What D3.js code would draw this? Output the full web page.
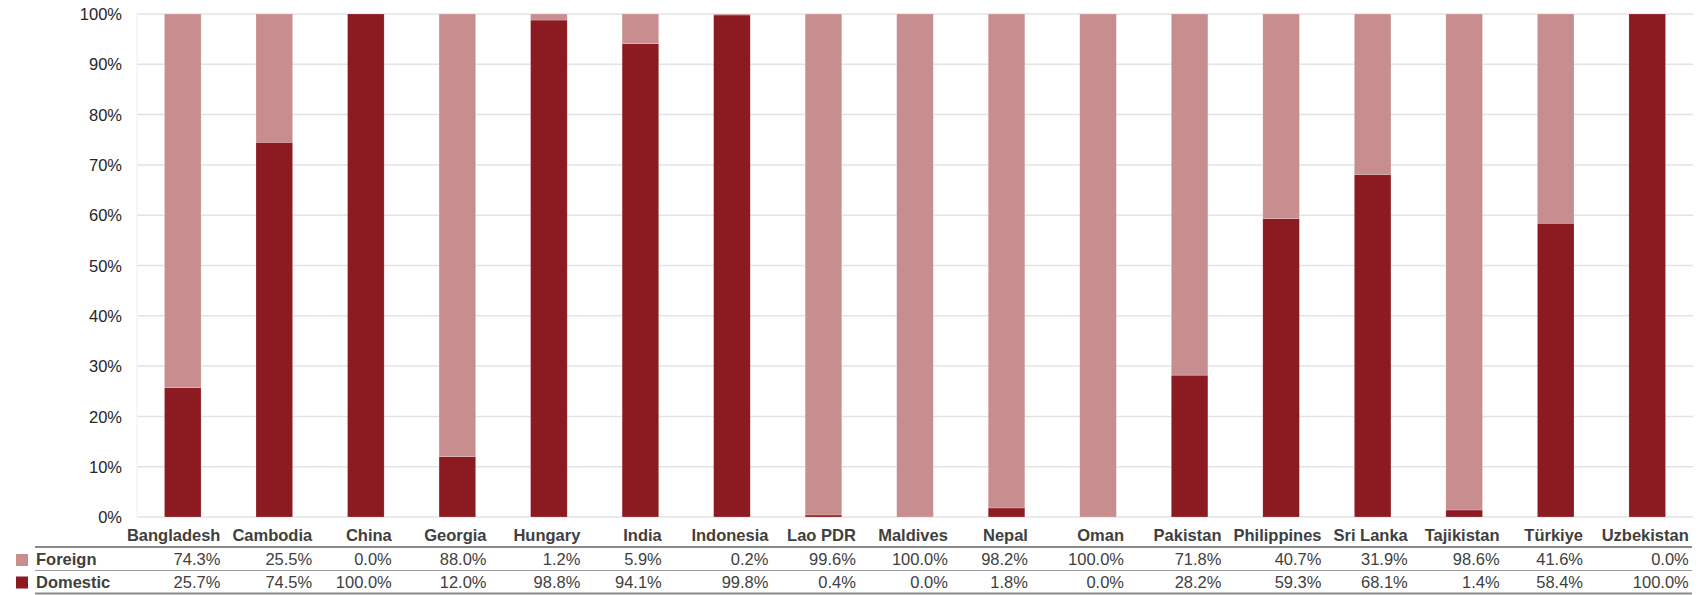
<!DOCTYPE html>
<html>
<head>
<meta charset="utf-8">
<script src="https://cdn.jsdelivr.net/npm/d3@7"></script>
<style>
  html, body { margin: 0; padding: 0; background: #fff; }
  svg { display: block; font-family: "Liberation Sans", Arial, sans-serif; }
</style>
</head>
<body>
<svg id="chart" width="1707" height="595"></svg>
<script>
const categories = ["Bangladesh","Cambodia","China","Georgia","Hungary","India","Indonesia","Lao PDR","Maldives","Nepal","Oman","Pakistan","Philippines","Sri Lanka","Tajikistan","Türkiye","Uzbekistan"];
const foreign  = [74.3, 25.5, 0.0, 88.0, 1.2, 5.9, 0.2, 99.6, 100.0, 98.2, 100.0, 71.8, 40.7, 31.9, 98.6, 41.6, 0.0];
const domestic = [25.7, 74.5, 100.0, 12.0, 98.8, 94.1, 99.8, 0.4, 0.0, 1.8, 0.0, 28.2, 59.3, 68.1, 1.4, 58.4, 100.0];
const seriesNames = ["Domestic", "Foreign"];
const yTicks = [0, 10, 20, 30, 40, 50, 60, 70, 80, 90, 100];

const colors = { Domestic: "#8c1a21", Foreign: "#c78d8f" };

const svg = d3.select("#chart");
const plot = { left: 137, right: 1693, top: 14, bottom: 517 };

const rows = categories.map((c, i) => ({ cat: c, Domestic: domestic[i], Foreign: foreign[i] }));

const x = d3.scaleBand().domain(categories).range([plot.left, plot.right]).paddingInner(0.6).paddingOuter(0.3);
const y = d3.scaleLinear().domain([0, 100]).range([plot.bottom, plot.top]);

// gridlines
svg.append("g").selectAll("line").data(yTicks).join("line")
  .attr("x1", plot.left).attr("x2", plot.right)
  .attr("y1", d => y(d)).attr("y2", d => y(d))
  .attr("stroke", "#e3e3e3").attr("stroke-width", 1.5);
svg.append("line").attr("x1", plot.left).attr("x2", plot.left)
  .attr("y1", plot.top).attr("y2", plot.bottom)
  .attr("stroke", "#efefef").attr("stroke-width", 1);

// y axis
const yAxis = d3.axisLeft(y).tickValues(yTicks).tickFormat(d => d + "%").tickSize(0).tickPadding(0);
const yg = svg.append("g").attr("transform", "translate(122,0)").call(yAxis);
yg.select(".domain").remove();
yg.selectAll("text").attr("font-size", "16.5px").attr("fill", "#262626")
  .attr("font-family", "'Liberation Sans', Arial, sans-serif").attr("dy", "0.34em");

// stacked bars
const stack = d3.stack().keys(seriesNames)(rows);
svg.append("g").selectAll("g").data(stack).join("g")
  .attr("fill", d => colors[d.key])
  .selectAll("rect").data(d => d).join("rect")
  .attr("x", d => x(d.data.cat))
  .attr("width", x.bandwidth())
  .attr("y", d => y(d[1]))
  .attr("height", d => Math.max(0, y(d[0]) - y(d[1])))
  .attr("stroke", "#ffffff").attr("stroke-opacity", 0.35).attr("stroke-width", 0.6);

// data table
const tableLeft = 35, tableRight = 1692;
const rowBase = { cat: 541, Foreign: 565, Domestic: 587.5 };
svg.append("line").attr("x1", tableLeft).attr("x2", tableRight).attr("y1", 547).attr("y2", 547)
  .attr("stroke", "#8a8a8a").attr("stroke-width", 2);
svg.append("line").attr("x1", tableLeft).attr("x2", tableRight).attr("y1", 570.5).attr("y2", 570.5)
  .attr("stroke", "#9a9a9a").attr("stroke-width", 1.2);
svg.append("line").attr("x1", tableLeft).attr("x2", tableRight).attr("y1", 593.5).attr("y2", 593.5)
  .attr("stroke", "#8a8a8a").attr("stroke-width", 2);

// legend keys
const legendRows = ["Foreign", "Domestic"];
legendRows.forEach(k => {
  svg.append("rect").attr("x", 16).attr("y", rowBase[k] - 11).attr("width", 12).attr("height", 12)
    .attr("fill", colors[k]);
  svg.append("text").attr("x", 36).attr("y", rowBase[k]).text(k)
    .attr("font-size", "16.5px").attr("font-weight", "bold").attr("fill", "#404040");
});

// columns
const fmt = d3.format(".1f");
const colInfo = [];
const cols = svg.append("g").selectAll("g").data(rows).join("g");
cols.each(function(d) {
  const g = d3.select(this);
  const t1 = g.append("text").attr("y", rowBase.cat).text(d.cat)
    .attr("font-size", "16.5px").attr("font-weight", "bold").attr("fill", "#404040").attr("text-anchor", "end");
  const t2 = g.append("text").attr("y", rowBase.Foreign).text(fmt(d.Foreign) + "%")
    .attr("font-size", "16.5px").attr("fill", "#404040").attr("text-anchor", "end");
  const t3 = g.append("text").attr("y", rowBase.Domestic).text(fmt(d.Domestic) + "%")
    .attr("font-size", "16.5px").attr("fill", "#404040").attr("text-anchor", "end");
  const w = Math.max(t1.node().getComputedTextLength(), t2.node().getComputedTextLength(), t3.node().getComputedTextLength());
  const right = x(d.cat) + x.bandwidth() / 2 + w / 2 - 2;
  colInfo.push({ texts: [t1, t2, t3], w, right });
});
// keep a minimum gap between neighbouring columns (resolve right to left)
for (let i = colInfo.length - 2; i >= 0; i--) {
  const nextLeft = colInfo[i + 1].right - colInfo[i + 1].w;
  if (colInfo[i].right > nextLeft - 12) colInfo[i].right = nextLeft - 12;
}
colInfo.forEach(c => c.texts.forEach(t => t.attr("x", c.right)));
</script>
</body>
</html>
